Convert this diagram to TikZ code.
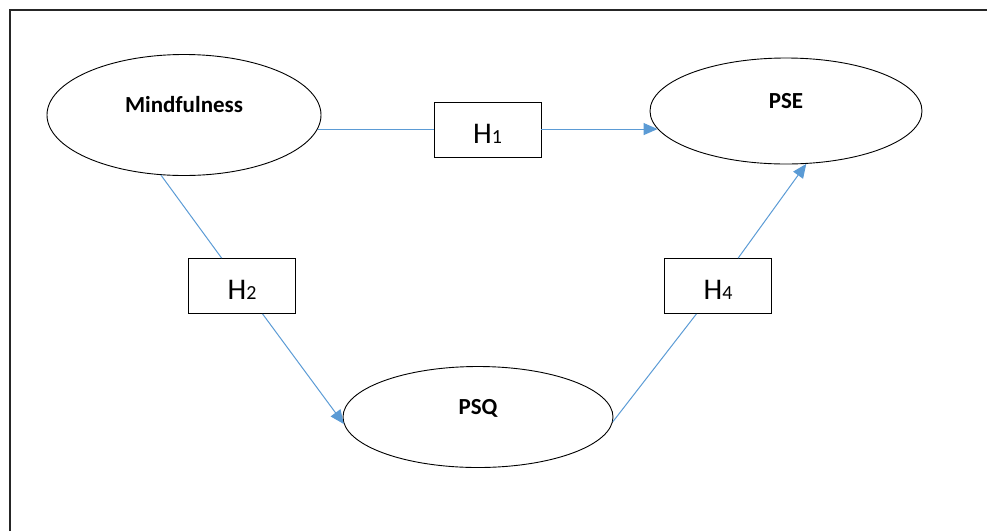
\documentclass[tikz,border=0pt]{standalone}
\usepackage{fontspec}
\setmainfont{Carlito}
\usetikzlibrary{shapes.geometric,arrows.meta}
\definecolor{linkblue}{HTML}{5B9BD5}
\tikzset{
  construct/.style={ellipse, draw=black, line width=0.9pt, inner sep=0pt,
    font=\fontsize{23}{23}\selectfont\bfseries, text height=10pt, text depth=15pt},
  hypbox/.style={rectangle, draw=black, line width=0.9pt, fill=white, inner sep=0pt,
    minimum width=107pt, minimum height=55pt,
    font=\fontsize{30}{30}\selectfont, text height=27pt, text depth=0pt},
  link/.style={draw=linkblue, line width=1pt},
  linkarrow/.style={link, -{Triangle[length=14pt, width=12pt]}},
  frameline/.style={draw=black!85, line width=1.1pt}
}
\newcommand{\hyp}[1]{H{\fontsize{20}{20}\selectfont #1}}
\begin{document}
\begin{tikzpicture}[x=1pt, y=-1pt]
  \useasboundingbox (0,0) rectangle (987,531);
  % open frame: left and top edges only
  \draw[frameline] (10,531) -- (10,10) -- (987,10);

  % constructs
  \node[construct, minimum width=274pt, minimum height=121pt] (mind) at (184,115) {Mindfulness};
  \node[construct, minimum width=272pt, minimum height=106pt] (pse) at (786,111) {PSE};
  \node[construct, minimum width=270pt, minimum height=101pt] (psq) at (478,417) {PSQ};

  % hypothesis boxes
  \node[hypbox] (h1) at (487.5,129.5) {\hyp{1}};
  \node[hypbox] (h2) at (242,286) {\hyp{2}};
  \node[hypbox] (h4) at (718,286) {\hyp{4}};

  % paths
  \draw[link] (mind.-6) -- (h1.west |- mind.-6);
  \draw[linkarrow] (h1.east |- pse.188) -- (pse.188);

  \draw[link] (mind.249.6) -- (h2);
  \draw[linkarrow] (h2) -- (psq.183.6);

  \draw[link] (psq.-2.7) -- (h4);
  \draw[linkarrow] (h4) -- (pse.291.4);
\end{tikzpicture}
\end{document}
